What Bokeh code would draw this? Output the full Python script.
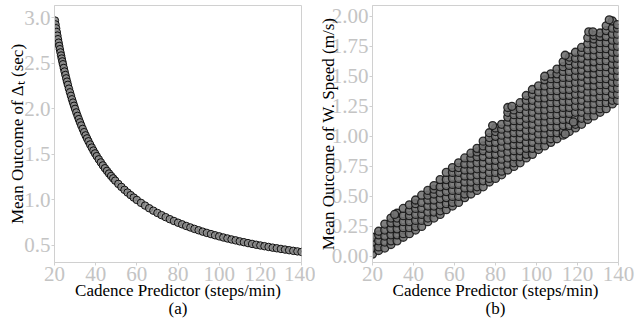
from bokeh.plotting import figure
from bokeh.layouts import row
from bokeh.models import FixedTicker, Range1d, NumeralTickFormatter
from bokeh.embed import file_html
from bokeh.resources import INLINE

# ---------------- data ----------------
x_ticks = [20, 40, 60, 80, 100, 120, 140]
a_y_ticks = [0.5, 1.0, 1.5, 2.0, 2.5, 3.0]
b_y_ticks = [0.0, 0.25, 0.5, 0.75, 1.0, 1.25, 1.5, 1.75, 2.0]

# (a) cadence vs mean step interval
a_cadence = [20.2, 20.5, 20.8, 21.1, 21.4, 21.7, 22.0, 22.3, 22.6, 22.9, 23.2, 23.5,
             23.8, 24.1, 24.5, 24.9, 25.3, 25.7, 26.1, 26.5, 27.0, 27.5, 28.0, 28.5,
             29.0, 29.5, 30.0, 30.6, 31.2, 31.8, 32.4, 33.0, 33.7, 34.4, 35.1, 35.8,
             36.5, 37.3, 38.1, 38.9, 39.7, 40.5, 41.5, 42.5, 43.5, 44.5, 45.5, 46.5,
             47.5, 48.5, 49.5, 51, 52.5, 54, 55.5, 57, 58.5, 60, 62, 64, 66, 68, 70,
             72, 74, 76, 78, 80, 82, 84, 86, 88, 90, 92, 94, 96, 98, 100, 102, 104,
             106, 108, 110, 112, 114, 116, 118, 120, 122, 124, 126, 128, 130, 132,
             134, 136, 138, 140]
a_delta = [2.970, 2.927, 2.885, 2.844, 2.804, 2.765, 2.727, 2.691, 2.655, 2.620, 2.586, 2.553,
           2.521, 2.490, 2.449, 2.410, 2.372, 2.335, 2.299, 2.264, 2.222, 2.182, 2.143, 2.105,
           2.069, 2.034, 2.000, 1.961, 1.923, 1.887, 1.852, 1.818, 1.780, 1.744, 1.709, 1.676,
           1.644, 1.609, 1.575, 1.542, 1.511, 1.481, 1.446, 1.412, 1.379, 1.348, 1.319, 1.290,
           1.263, 1.237, 1.212, 1.176, 1.143, 1.111, 1.081, 1.053, 1.026, 1.000, 0.968, 0.938,
           0.909, 0.882, 0.857, 0.833, 0.811, 0.789, 0.769, 0.750, 0.732, 0.714, 0.698, 0.682,
           0.667, 0.652, 0.638, 0.625, 0.612, 0.600, 0.588, 0.577, 0.566, 0.556, 0.545, 0.536,
           0.526, 0.517, 0.508, 0.500, 0.492, 0.484, 0.476, 0.469, 0.462, 0.455, 0.448, 0.441,
           0.435, 0.429]

# (b) cadence vs mean walking speed, read column by column
b_col_cadence = [20, 23, 26, 29, 32, 35, 38, 41, 44, 47, 50, 53, 56, 59, 62, 65, 68, 71,
                 74, 77, 80, 83, 86, 89, 92, 95, 98, 101, 104, 107, 110, 113, 116, 119,
                 122, 125, 128, 131, 134, 137, 139.5]
b_col_speed = [
    [0.02, 0.07, 0.12, 0.16],
    [0.05, 0.08, 0.13, 0.18, 0.21],
    [0.07, 0.12, 0.17, 0.22, 0.27],
    [0.10, 0.13, 0.18, 0.23, 0.28, 0.32],
    [0.13, 0.18, 0.23, 0.28, 0.32, 0.36],
    [0.16, 0.19, 0.24, 0.29, 0.34, 0.40],
    [0.19, 0.24, 0.29, 0.34, 0.38, 0.43],
    [0.22, 0.25, 0.30, 0.35, 0.40, 0.44, 0.47],
    [0.25, 0.30, 0.35, 0.40, 0.45, 0.51],
    [0.29, 0.32, 0.37, 0.42, 0.47, 0.51, 0.55],
    [0.32, 0.37, 0.42, 0.47, 0.52, 0.56, 0.59],
    [0.35, 0.38, 0.43, 0.48, 0.53, 0.58, 0.64],
    [0.39, 0.44, 0.49, 0.54, 0.59, 0.64, 0.70],
    [0.42, 0.45, 0.50, 0.55, 0.60, 0.65, 0.70, 0.74],
    [0.45, 0.50, 0.55, 0.60, 0.65, 0.70, 0.74, 0.78],
    [0.49, 0.52, 0.57, 0.62, 0.67, 0.72, 0.77, 0.82],
    [0.52, 0.57, 0.62, 0.67, 0.72, 0.77, 0.82, 0.86],
    [0.55, 0.58, 0.63, 0.68, 0.73, 0.78, 0.83, 0.87, 0.90],
    [0.58, 0.63, 0.68, 0.73, 0.78, 0.83, 0.88, 0.92, 0.96],
    [0.62, 0.65, 0.70, 0.75, 0.80, 0.85, 0.90, 0.95, 0.99, 1.03],
    [0.65, 0.70, 0.75, 0.80, 0.85, 0.90, 0.95, 1.00, 1.04, 1.07],
    [0.68, 0.71, 0.76, 0.81, 0.86, 0.91, 0.96, 1.01, 1.06, 1.10],
    [0.72, 0.77, 0.82, 0.87, 0.92, 0.97, 1.02, 1.07, 1.12, 1.16, 1.20],
    [0.75, 0.78, 0.83, 0.88, 0.93, 0.98, 1.03, 1.08, 1.13, 1.18, 1.22],
    [0.78, 0.83, 0.88, 0.93, 0.98, 1.03, 1.08, 1.13, 1.18, 1.23, 1.28],
    [0.82, 0.85, 0.90, 0.95, 1.00, 1.05, 1.10, 1.15, 1.20, 1.25, 1.30, 1.34],
    [0.85, 0.90, 0.95, 1.00, 1.05, 1.10, 1.15, 1.20, 1.25, 1.30, 1.35, 1.39],
    [0.89, 0.92, 0.97, 1.02, 1.07, 1.12, 1.17, 1.22, 1.27, 1.32, 1.37, 1.42],
    [0.92, 0.97, 1.02, 1.07, 1.12, 1.17, 1.22, 1.27, 1.32, 1.37, 1.42, 1.47],
    [0.95, 0.98, 1.03, 1.08, 1.13, 1.18, 1.23, 1.28, 1.33, 1.38, 1.43, 1.48, 1.52],
    [0.98, 1.03, 1.08, 1.13, 1.18, 1.23, 1.28, 1.33, 1.38, 1.43, 1.48, 1.52, 1.56],
    [1.01, 1.04, 1.09, 1.14, 1.19, 1.24, 1.29, 1.34, 1.39, 1.44, 1.49, 1.54, 1.58, 1.62],
    [1.04, 1.09, 1.14, 1.19, 1.24, 1.29, 1.34, 1.39, 1.44, 1.49, 1.54, 1.59, 1.63, 1.66],
    [1.07, 1.10, 1.15, 1.20, 1.25, 1.30, 1.35, 1.40, 1.45, 1.50, 1.55, 1.60, 1.65, 1.70],
    [1.10, 1.15, 1.20, 1.25, 1.30, 1.35, 1.40, 1.45, 1.50, 1.55, 1.60, 1.65, 1.70, 1.74],
    [1.14, 1.17, 1.22, 1.27, 1.32, 1.37, 1.42, 1.47, 1.52, 1.57, 1.62, 1.67, 1.72, 1.77, 1.82],
    [1.17, 1.22, 1.27, 1.32, 1.37, 1.42, 1.47, 1.52, 1.57, 1.62, 1.67, 1.72, 1.77, 1.81, 1.84],
    [1.20, 1.23, 1.28, 1.33, 1.38, 1.43, 1.48, 1.53, 1.58, 1.63, 1.68, 1.73, 1.78, 1.83, 1.86],
    [1.23, 1.28, 1.33, 1.38, 1.43, 1.48, 1.53, 1.58, 1.63, 1.68, 1.73, 1.78, 1.83, 1.88, 1.92],
    [1.27, 1.30, 1.35, 1.40, 1.45, 1.50, 1.55, 1.60, 1.65, 1.70, 1.75, 1.80, 1.85, 1.90, 1.96],
    [1.30, 1.35, 1.40, 1.45, 1.50, 1.55, 1.60, 1.65, 1.70, 1.75, 1.80, 1.85, 1.90, 1.93],
]
b_out_cadence = [30.8, 86.0, 88.0, 114.0, 125.5, 127.5, 135.5, 114.0, 118.0, 78.6, 104.0]
b_out_speed = [0.35, 1.24, 1.25, 1.675, 1.87, 1.87, 1.97, 1.02, 1.12, 1.09, 1.50]

# --------------- build ---------------
b_cadence = [cx for cx, ys in zip(b_col_cadence, b_col_speed) for _ in ys] + b_out_cadence
b_speed = [y for ys in b_col_speed for y in ys] + b_out_speed

FONT = "Liberation Serif"
GREY = "#c4c4c4"
FRAME = "#d0d0d0"


def make(ylabel, yticks, yfmt, yr, tag, width, border_left, border_right, ylab_standoff):
    p = figure(width=width, height=324, output_backend="svg", toolbar_location=None,
               x_range=Range1d(20, 140), y_range=Range1d(*yr),
               min_border_left=border_left, min_border_right=border_right,
               min_border_top=5, min_border_bottom=62)
    p.grid.visible = False
    p.outline_line_color = FRAME
    for ax in (p.xaxis[0], p.yaxis[0]):
        ax.axis_line_color = FRAME
        ax.major_tick_line_color = FRAME
        ax.major_tick_out = 3
        ax.major_tick_in = 0
        ax.minor_tick_line_color = None
        ax.major_label_text_font = FONT
        ax.major_label_text_font_size = "21px"
        ax.major_label_text_color = GREY
        ax.axis_label_text_font = FONT
        ax.axis_label_text_font_size = "17px"
        ax.axis_label_text_font_style = "normal"
        ax.axis_label_text_color = "black"
        ax.major_label_standoff = 1
    p.xaxis.axis_label_standoff = -3
    p.yaxis.axis_label_standoff = ylab_standoff
    p.xaxis.ticker = FixedTicker(ticks=x_ticks)
    p.yaxis.ticker = FixedTicker(ticks=yticks)
    p.yaxis.formatter = NumeralTickFormatter(format=yfmt)
    p.yaxis.axis_label = ylabel
    p.xaxis.axis_label = "Cadence Predictor (steps/min)\n" + tag
    p.xaxis.axis_label_text_line_height = 0.95
    return p


p1 = make("Mean Outcome of \u0394\u209c (sec)", a_y_ticks, "0.0", (0.313, 3.135), "(a)",
          315, 54, 14, -6)
p1.scatter(a_cadence, a_delta, size=7.5, marker="circle", fill_color="#8a8a8a", fill_alpha=0.85,
           line_color="black", line_alpha=0.9, line_width=1)

p2 = make("Mean Outcome of W. Speed (m/s)", b_y_ticks, "0.00", (-0.05, 2.089), "(b)",
          320, 56, 17, -9)
p2.scatter(b_cadence, b_speed, size=8, marker="circle", fill_color="#727272", fill_alpha=0.9,
           line_color="#111111", line_alpha=0.85, line_width=1.3)

layout = row(p1, p2)
open("out.html", "w").write(file_html(layout, INLINE))
